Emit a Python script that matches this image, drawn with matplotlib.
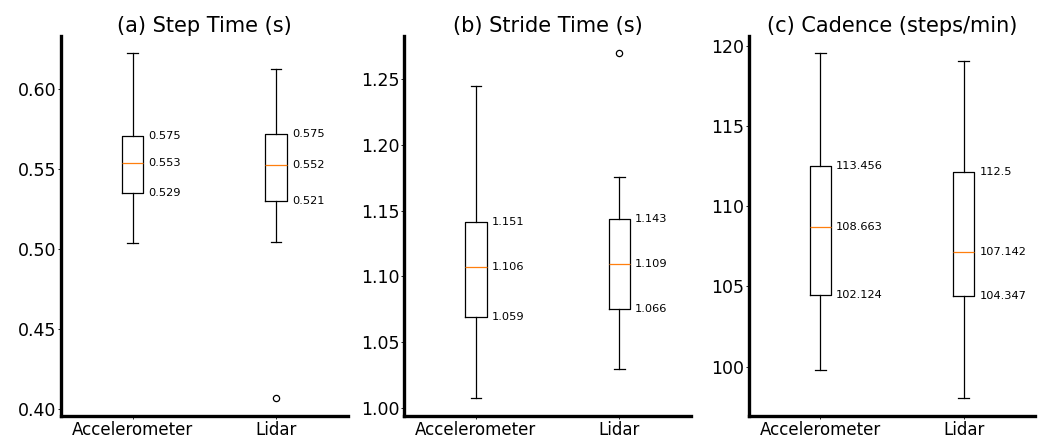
import matplotlib
matplotlib.use("Agg")
import matplotlib.pyplot as plt

sensors = ["Accelerometer", "Lidar"]

# (a) step time, seconds
step_whislo = [0.5035, 0.5044]
step_q1 = [0.5348, 0.5300]
step_med = [0.5535, 0.5523]
step_q3 = [0.5706, 0.5716]
step_whishi = [0.6220, 0.6121]
step_fliers = [[], [0.4067]]
step_text = [["0.575", "0.553", "0.529"], ["0.575", "0.552", "0.521"]]

# (b) stride time, seconds
stride_whislo = [1.0073, 1.0294]
stride_q1 = [1.0692, 1.0754]
stride_med = [1.1073, 1.1096]
stride_q3 = [1.1416, 1.1434]
stride_whishi = [1.2444, 1.1754]
stride_fliers = [[], [1.2696]]
stride_text = [["1.151", "1.106", "1.059"], ["1.143", "1.109", "1.066"]]

# (c) cadence, steps/min
cad_whislo = [99.77, 98.02]
cad_q1 = [104.46, 104.42]
cad_med = [108.71, 107.17]
cad_q3 = [112.52, 112.10]
cad_whishi = [119.52, 119.04]
cad_fliers = [[], []]
cad_text = [["113.456", "108.663", "102.124"], ["112.5", "107.142", "104.347"]]

panels = [
    ("(a) Step Time (s)", step_whislo, step_q1, step_med, step_q3, step_whishi, step_fliers, step_text),
    ("(b) Stride Time (s)", stride_whislo, stride_q1, stride_med, stride_q3, stride_whishi, stride_fliers, stride_text),
    ("(c) Cadence (steps/min)", cad_whislo, cad_q1, cad_med, cad_q3, cad_whishi, cad_fliers, cad_text),
]

fig = plt.figure(figsize=(10.4, 4.41), dpi=100)
lefts = [61, 404.3, 748.7]
ax_w = 286.7
ax_b = 1 - 415.7 / 441
ax_h = (415.7 - 36) / 441

for i, (title, lo, q1, med, q3, hi, fl, txt) in enumerate(panels):
    ax = fig.add_axes([lefts[i] / 1040, ax_b, ax_w / 1040, ax_h])
    stats = []
    for j, name in enumerate(sensors):
        stats.append({
            "label": name, "whislo": lo[j], "q1": q1[j], "med": med[j],
            "q3": q3[j], "whishi": hi[j], "fliers": fl[j],
        })
    ax.bxp(
        stats,
        positions=[1, 2],
        widths=0.15,
        boxprops=dict(linewidth=0.9, color="black"),
        whiskerprops=dict(linewidth=0.9, color="black"),
        capprops=dict(linewidth=0.9, color="black"),
        medianprops=dict(linewidth=0.9, color="#ff7f0e"),
        flierprops=dict(marker="o", markersize=4.5, markerfacecolor="none",
                        markeredgecolor="black", markeredgewidth=0.9),
    )
    for j in range(len(sensors)):
        x = j + 1 + 0.11
        for y, s in zip([q3[j], med[j], q1[j]], txt[j]):
            ax.text(x, y, s, ha="left", va="center", fontsize=8.2)
    ax.set_title(title, fontsize=15, pad=2)
    ax.spines["top"].set_visible(False)
    ax.spines["right"].set_visible(False)
    ax.spines["left"].set_linewidth(2.4)
    ax.spines["bottom"].set_linewidth(2.4)
    ax.tick_params(axis="y", labelsize=12.5, length=2, width=0.6, pad=1.5)
    ax.tick_params(axis="x", labelsize=12, length=2, width=0.6, pad=1.5)

fig.savefig("out.png", dpi=100)
